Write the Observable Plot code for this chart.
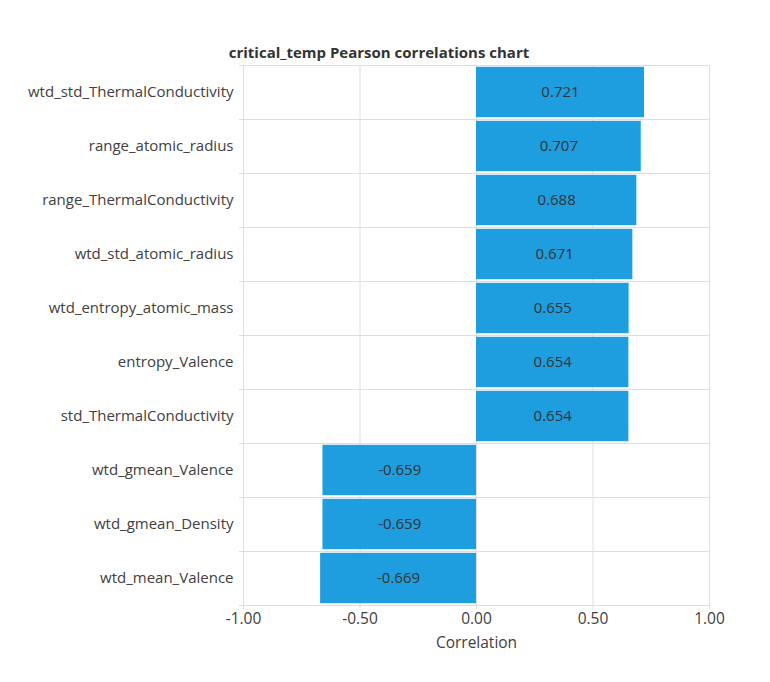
<!DOCTYPE html>
<html>
<head>
<meta charset="utf-8">
<script src="https://cdn.jsdelivr.net/npm/d3@7"></script>
<script src="https://cdn.jsdelivr.net/npm/@observablehq/plot@0.6"></script>
<style>
  body { margin: 0; background: #fff; font-family: "Segoe UI", "Open Sans", sans-serif; }
  #title { width: 758px; height: 56px; box-sizing: border-box; padding-top: 42px; line-height: 20px;
           text-align: center; font-weight: bold; font-size: 15px; color: #333; }
</style>
</head>
<body>
<div id="title">critical_temp Pearson correlations chart</div>
<div id="chart"></div>
<script>
const categories = [
  "wtd_std_ThermalConductivity",
  "range_atomic_radius",
  "range_ThermalConductivity",
  "wtd_std_atomic_radius",
  "wtd_entropy_atomic_mass",
  "entropy_Valence",
  "std_ThermalConductivity",
  "wtd_gmean_Valence",
  "wtd_gmean_Density",
  "wtd_mean_Valence"
];
const correlations = [0.721, 0.707, 0.688, 0.671, 0.655, 0.654, 0.654, -0.659, -0.659, -0.669];
const xTicks = [-1, -0.5, 0, 0.5, 1];

const data = categories.map((c, i) => ({name: c, value: correlations[i]}));
const gridColor = "#dedede";
const lastCat = [categories[categories.length - 1]];
const fmt2 = d => d.toFixed(2);
const fmt3 = d => d.toFixed(3);

const chart = Plot.plot({
  width: 770,
  height: 626,
  marginTop: 9,
  marginBottom: 77,
  marginLeft: 243,
  marginRight: 61,
  style: {fontFamily: "'Segoe UI', 'Open Sans', sans-serif", fontSize: "15px", color: "#404040", background: "#fff"},
  x: {domain: [-1, 1], ticks: xTicks, tickFormat: fmt2, label: "Correlation", labelAnchor: "center", labelArrow: "none"},
  y: {domain: categories, padding: 0, label: null},
  marks: [
    Plot.ruleX(xTicks, {stroke: gridColor}),
    Plot.tickY(categories, {y: d => d, dy: -27, stroke: gridColor, insetLeft: -4}),
    Plot.tickY(lastCat, {y: d => d, dy: 27, stroke: gridColor, insetLeft: -4}),
    Plot.barX(data, {x: "value", y: "name", fill: "#1f9edf", insetTop: 1.8, insetBottom: 1.8}),
    Plot.text(data, {x: d => d.value / 2, y: "name", text: d => fmt3(d.value), fill: "#333", fontSize: 15}),
    Plot.axisX({ticks: xTicks, tickFormat: fmt2, tickSize: 4, tickPadding: 3, stroke: gridColor, fill: "#404040", fontSize: 15.5, label: "Correlation", labelAnchor: "center", labelArrow: "none", labelOffset: 42}),
    Plot.axisY({tickSize: 0, tickPadding: 10, fill: "#404040", label: null})
  ]
});
document.getElementById("chart").appendChild(chart);
</script>
</body>
</html>
